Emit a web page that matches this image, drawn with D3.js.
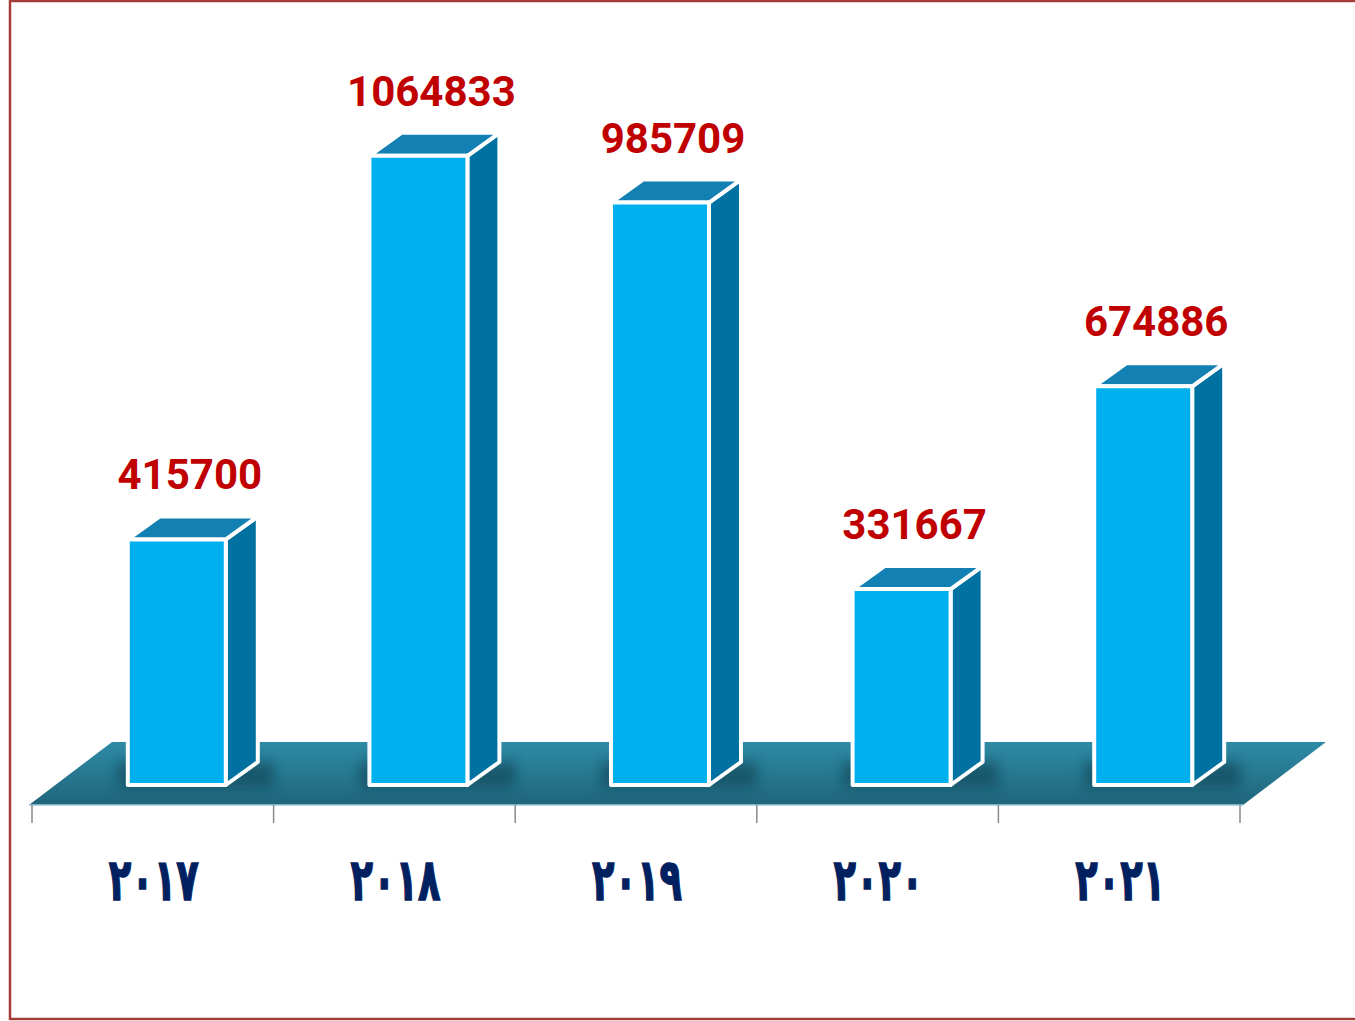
<!DOCTYPE html>
<html>
<head>
<meta charset="utf-8">
<script src="https://cdn.jsdelivr.net/npm/d3@7/dist/d3.min.js"></script>
<style>
body{margin:0;padding:0;background:#fff;}
</style>
</head>
<body>
<div id="chart"></div>
<script>
// data
var years = ["2017", "2018", "2019", "2020", "2021"];
var yearLabels = ["٢٠١٧", "٢٠١٨", "٢٠١٩", "٢٠٢٠", "٢٠٢١"];
var values = [415700, 1064833, 985709, 331667, 674886];

var W = 1355, H = 1021;
var svg = d3.select("#chart").append("svg")
  .attr("width", W)
  .attr("height", H);

var defs = svg.append("defs");
var fg = defs.append("linearGradient").attr("id", "floorGrad")
  .attr("x1", 0).attr("y1", 0).attr("x2", 0).attr("y2", 1);
fg.append("stop").attr("offset", "0%").attr("stop-color", "#2e8ba6");
fg.append("stop").attr("offset", "100%").attr("stop-color", "#1f657b");
defs.append("filter").attr("id", "blur")
  .attr("x", "-50%").attr("y", "-50%").attr("width", "200%").attr("height", "200%")
  .append("feGaussianBlur").attr("stdDeviation", 6);

// scales
var x = d3.scaleBand().domain(years).range([32, 1240]).padding(0);
var y = d3.scaleLinear().domain([0, 1200000]).range([785, 76]);

var barW = 98, shift = 24;   // front face width, offset of bar from band centre
var dx = 32, dy = 23;        // bar depth
var fdx = 83, fdy = 63;      // floor depth
var floorFront = 805;

// floor
var r0 = x.range()[0] - 3, r1 = x.range()[1] + 3;
var floorPts = [[r0, floorFront], [r1, floorFront], [r1 + fdx, floorFront - fdy], [r0 + fdx, floorFront - fdy]];
defs.append("clipPath").attr("id", "floorClip")
  .append("polygon").attr("points", floorPts.map(function(p){return p.join(",");}).join(" "));

svg.append("polygon")
  .attr("points", floorPts.map(function(p){return p.join(",");}).join(" "))
  .attr("fill", "url(#floorGrad)");

svg.append("line")
  .attr("x1", r0).attr("x2", r1)
  .attr("y1", floorFront).attr("y2", floorFront)
  .attr("stroke", "#9ccbd9").attr("stroke-width", 1.5);

// shadows at the base of the bars
svg.append("g").attr("clip-path", "url(#floorClip)")
  .selectAll("rect.shadow")
  .data(years)
  .enter()
  .append("rect")
  .attr("x", function(d){ return x(d) + x.bandwidth()/2 + shift - barW/2 - 10; })
  .attr("y", 762)
  .attr("width", barW + dx + 26)
  .attr("height", 26)
  .attr("fill", "#0f3f50")
  .attr("opacity", 0.55)
  .attr("filter", "url(#blur)");

// ticks at the band edges
var edges = years.map(function(d){ return x(d); }).concat([x.range()[1]]);
svg.selectAll("line.tick")
  .data(edges)
  .enter()
  .append("line")
  .attr("x1", function(d){ return d; })
  .attr("x2", function(d){ return d; })
  .attr("y1", floorFront)
  .attr("y2", floorFront + 18)
  .attr("stroke", "#8a8a8a")
  .attr("stroke-width", 1.5);

// 3d bars
var bars = svg.selectAll("g.bar")
  .data(years)
  .enter()
  .append("g");

function fx(d){ return x(d) + x.bandwidth()/2 + shift - barW/2; }

bars.append("polygon") // side
  .attr("points", function(d, i){
    var l = fx(d) + barW, t = y(values[i]), b = y(0);
    return [[l, b], [l + dx, b - dy], [l + dx, t - dy], [l, t]].map(function(p){return p.join(",");}).join(" ");
  })
  .attr("fill", "#0071a0")
  .attr("stroke", "#ffffff")
  .attr("stroke-width", 4)
  .attr("stroke-linejoin", "round");

bars.append("polygon") // top
  .attr("points", function(d, i){
    var l = fx(d), t = y(values[i]);
    return [[l, t], [l + barW, t], [l + barW + dx, t - dy], [l + dx, t - dy]].map(function(p){return p.join(",");}).join(" ");
  })
  .attr("fill", "#1380b3")
  .attr("stroke", "#ffffff")
  .attr("stroke-width", 4)
  .attr("stroke-linejoin", "round");

bars.append("rect") // front
  .attr("x", function(d){ return fx(d); })
  .attr("y", function(d, i){ return y(values[i]); })
  .attr("width", barW)
  .attr("height", function(d, i){ return y(0) - y(values[i]); })
  .attr("fill", "#00b0ee")
  .attr("stroke", "#ffffff")
  .attr("stroke-width", 4)
  .attr("stroke-linejoin", "round");

// value labels
svg.selectAll("text.val")
  .data(years)
  .enter()
  .append("text")
  .attr("x", function(d){ return fx(d) + (barW + dx)/2 - 3; })
  .attr("y", function(d, i){ return y(values[i]) - 50; })
  .text(function(d, i){ return values[i]; })
  .attr("font-family", "Roboto, sans-serif")
  .attr("font-weight", "bold")
  .attr("font-size", "42px")
  .attr("fill", "#c00000")
  .attr("text-anchor", "middle");

// category labels
svg.selectAll("text.cat")
  .data(years)
  .enter()
  .append("text")
  .attr("x", function(d){ return x(d) + x.bandwidth()/2 + 1 - 45; })
  .attr("y", 900)
  .text(function(d, i){ return yearLabels[i]; })
  .attr("font-family", "DejaVu Sans, sans-serif")
  .attr("font-weight", "bold")
  .attr("font-size", "58px")
  .attr("fill", "#002060")
  .attr("stroke", "#002060")
  .attr("stroke-width", 1.5)
  .attr("textLength", 90)
  .attr("lengthAdjust", "spacingAndGlyphs")
  .attr("direction", "ltr");

// frame
svg.append("rect")
  .attr("x", 10).attr("y", 1)
  .attr("width", W + 10).attr("height", 1018)
  .attr("fill", "none")
  .attr("stroke", "#a33d37")
  .attr("stroke-width", 2.5);
</script>
</body>
</html>
